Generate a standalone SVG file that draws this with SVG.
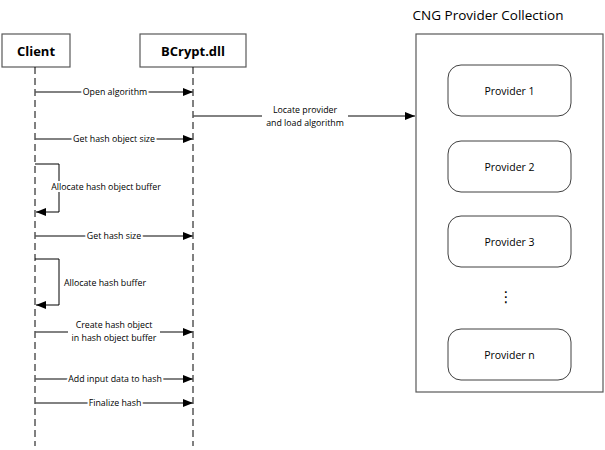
<svg xmlns="http://www.w3.org/2000/svg" width="605" height="450" viewBox="0 0 605 450">
<defs>
<marker id="ah" markerWidth="10" markerHeight="8" refX="10" refY="4" orient="auto" markerUnits="userSpaceOnUse">
<path d="M0,0 L10,4 L0,8 Z" fill="#000"/>
</marker>
<style>
.box{fill:#fff;stroke:#595959;stroke-width:1.2}
.prov{fill:#fff;stroke:#404040;stroke-width:1}
.life{stroke:#000;stroke-width:1;stroke-dasharray:7,4;fill:none}
.msg{stroke:#595959;stroke-width:1.3;fill:none;marker-end:url(#ah)}
.loop{stroke:#000;stroke-width:1;fill:none;marker-end:url(#ah)}
.lbl{font-family:"Open Sans","DejaVu Sans",sans-serif;font-size:8.8px;fill:#000;text-anchor:middle;paint-order:stroke;stroke:#fff;stroke-width:4px;stroke-linejoin:round}
.lbl2{font-family:"Open Sans","DejaVu Sans",sans-serif;font-size:8.8px;fill:#000;text-anchor:middle}
.hdr{font-family:"Open Sans","DejaVu Sans",sans-serif;font-size:13px;font-weight:bold;fill:#000;text-anchor:middle}
.ptxt{font-family:"Open Sans","DejaVu Sans",sans-serif;font-size:10.5px;fill:#000;text-anchor:middle}
.title{font-family:"Open Sans","DejaVu Sans",sans-serif;font-size:13.5px;fill:#000;text-anchor:middle}
</style>
</defs>
<g id="client">
<rect class="box" x="2" y="34" width="68" height="33"/>
<text class="hdr" x="36" y="55.5">Client</text>
<line class="life" x1="35" y1="67" x2="35" y2="446"/>
</g>
<g id="bcrypt">
<rect class="box" x="140" y="34" width="106" height="33"/>
<text class="hdr" x="193" y="55.5">BCrypt.dll</text>
<line class="life" x1="193" y1="67" x2="193" y2="446"/>
</g>
<g id="collection">
<text class="title" x="488" y="20">CNG Provider Collection</text>
<rect class="box" x="416" y="34" width="187" height="358"/>
</g>
<g id="provider1">
<rect class="prov" x="448" y="65" width="123" height="51" rx="13"/>
<text class="ptxt" x="509.5" y="94.5">Provider 1</text>
</g>
<g id="provider2">
<rect class="prov" x="448" y="141" width="123" height="51" rx="13"/>
<text class="ptxt" x="509.5" y="170.5">Provider 2</text>
</g>
<g id="provider3">
<rect class="prov" x="448" y="216" width="123" height="51" rx="13"/>
<text class="ptxt" x="509.5" y="245.5">Provider 3</text>
</g>
<g id="dots">
<text class="ptxt" x="506" y="302" style="font-size:15px;font-family:'DejaVu Sans',sans-serif">⋮</text>
</g>
<g id="providern">
<rect class="prov" x="448" y="329" width="123" height="51" rx="13"/>
<text class="ptxt" x="509.5" y="358.5">Provider n</text>
</g>
<g id="connectors">
<line class="msg" x1="35" y1="92" x2="193" y2="92"/>
<text class="lbl" x="115" y="95">Open algorithm</text>
<line class="msg" x1="193" y1="116" x2="415" y2="116"/>
<rect x="262" y="104" width="86" height="24" fill="#fff"/>
<text class="lbl2" x="305" y="113">Locate provider</text>
<text class="lbl2" x="305" y="126">and load algorithm</text>
<line class="msg" x1="35" y1="139" x2="193" y2="139"/>
<text class="lbl" x="114" y="142">Get hash object size</text>
<polyline class="loop" points="35,164 59,164 59,212 36,212"/>
<text class="lbl" x="106" y="190">Allocate hash object buffer</text>
<line class="msg" x1="35" y1="236" x2="193" y2="236"/>
<text class="lbl" x="114" y="239">Get hash size</text>
<polyline class="loop" points="35,259 59,259 59,305 36,305"/>
<text class="lbl" x="105" y="286">Allocate hash buffer</text>
<line class="msg" x1="35" y1="332" x2="193" y2="332"/>
<rect x="68" y="320" width="92" height="24" fill="#fff"/>
<text class="lbl2" x="114" y="328">Create hash object</text>
<text class="lbl2" x="114" y="341">in hash object buffer</text>
<line class="msg" x1="35" y1="379" x2="193" y2="379"/>
<text class="lbl" x="115" y="382">Add input data to hash</text>
<line class="msg" x1="35" y1="403" x2="193" y2="403"/>
<text class="lbl" x="115" y="406">Finalize hash</text>
</g>
</svg>
